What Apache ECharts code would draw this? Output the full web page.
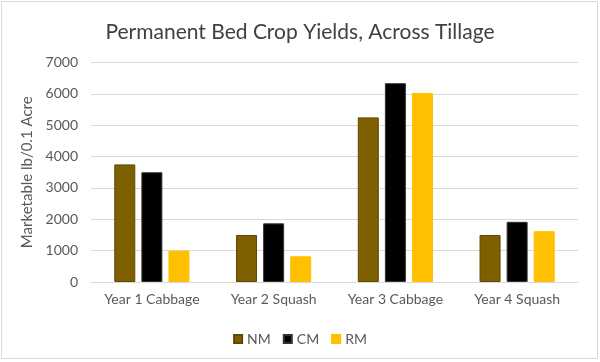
<!DOCTYPE html>
<html><head><meta charset="utf-8">
<script src="https://cdn.jsdelivr.net/npm/echarts@6/dist/echarts.min.js"></script>
<style>html,body{margin:0;padding:0;background:#fff}#c{width:600px;height:362px}</style>
</head><body><div id="c"></div>
<script>
var categories = ['Year 1 Cabbage', 'Year 2 Squash', 'Year 3 Cabbage', 'Year 4 Squash'];
var seriesNames = ['NM', 'CM', 'RM'];
var nmValues = [3750, 1500, 5250, 1500];
var cmValues = [3500, 1870, 6340, 1920];
var rmValues = [1000, 820, 6030, 1620];
var colors = ['#7F6000', '#000000', '#FFC000'];
var borders = ['#5e4700', '#333333', '#FFC000'];
var font = 'Lato, "Open Sans", sans-serif';
var chart = echarts.init(document.getElementById('c'));
var vals = [nmValues, cmValues, rmValues];
chart.setOption({
  animation: false,
  graphic: [{type: 'rect', shape: {x: 1.5, y: 1.5, width: 596, height: 357}, style: {fill: 'none', stroke: '#d9d9d9', lineWidth: 1}}],
  title: {text: 'Permanent Bed Crop Yields, Across Tillage', left: 'center', top: 17,
    textStyle: {fontFamily: font, fontSize: 21, fontWeight: 'normal', color: '#404040'}},
  legend: {top: 327, itemWidth: 8, itemHeight: 8, itemGap: 12, icon: 'rect',
    textStyle: {fontFamily: font, fontSize: 14, color: '#595959'}},
  grid: {left: 91, right: 22, top: 62.5, bottom: 80},
  xAxis: {type: 'category', data: categories,
    axisLine: {lineStyle: {color: '#d9d9d9'}}, axisTick: {show: false},
    axisLabel: {interval: 0, fontFamily: font, fontSize: 14, color: '#595959', margin: 10}},
  yAxis: {type: 'value', min: 0, max: 7000, interval: 1000,
    name: 'Marketable lb/0.1 Acre', nameLocation: 'middle', nameGap: 55,
    nameTextStyle: {fontFamily: font, fontSize: 15, color: '#595959'},
    axisLabel: {fontFamily: font, fontSize: 14, color: '#595959', margin: 13,
      formatter: function (v) { return String(v); }},
    splitLine: {lineStyle: {color: '#d9d9d9'}}},
  series: seriesNames.map(function (n, i) {
    return {name: n, type: 'bar', data: vals[i], barWidth: 21, barGap: '29%',
      itemStyle: {color: colors[i], borderColor: borders[i], borderWidth: 1}};
  })
});
</script></body></html>
